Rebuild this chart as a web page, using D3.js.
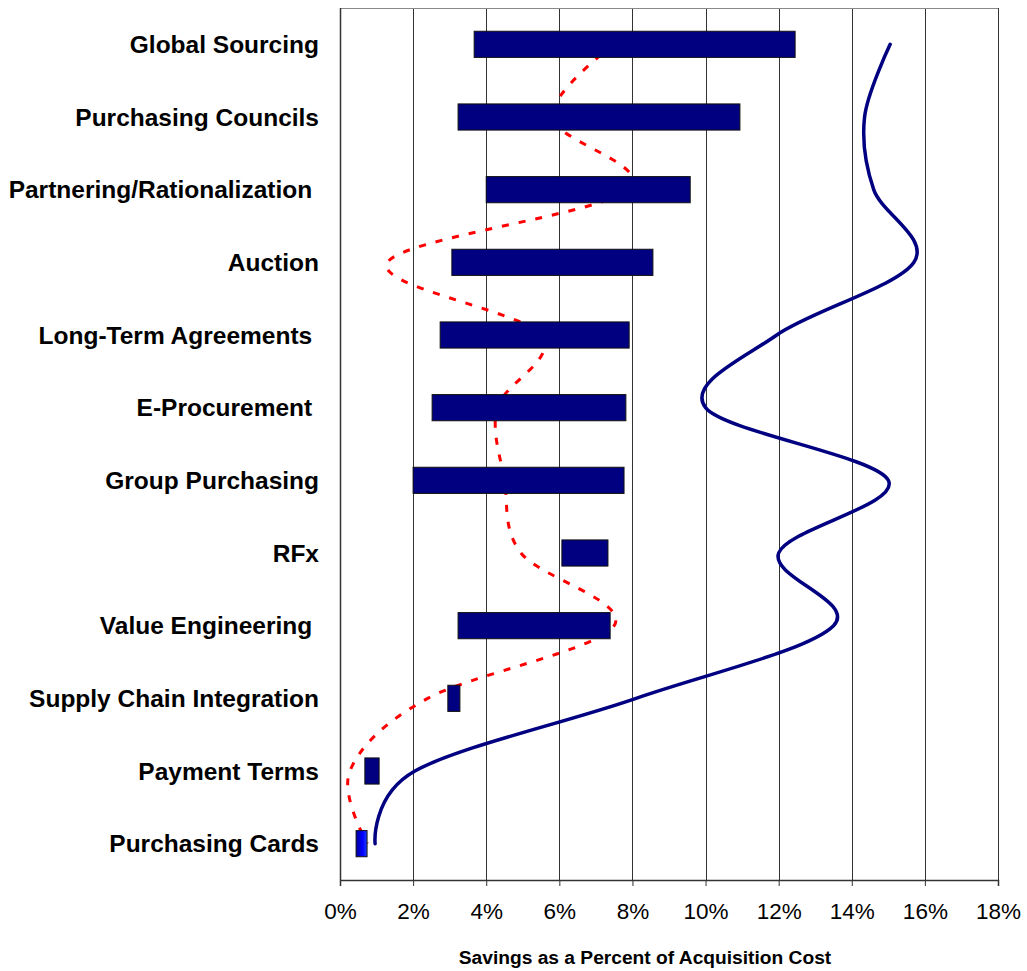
<!DOCTYPE html>
<html>
<head>
<meta charset="utf-8">
<script src="https://cdn.jsdelivr.net/npm/d3@7"></script>
<style>
  body { margin: 0; background: #fff; }
  text { font-family: "Liberation Sans", Arial, sans-serif; }
</style>
</head>
<body>
<svg class="chart"></svg>
<script>
// categories, top to bottom
var categories = ["Global Sourcing", "Purchasing Councils", "Partnering/Rationalization ",
  "Auction", "Long-Term Agreements ", "E-Procurement ", "Group Purchasing", "RFx",
  "Value Engineering ", "Supply Chain Integration", "Payment Terms", "Purchasing Cards"];

// floating bars: low and high savings (%)
var barLow  = [3.67, 3.23, 4.0, 3.06, 2.74, 2.52, 2.0, 6.07, 3.23, 2.95, 0.68, 0.44];
var barHigh = [12.45, 10.94, 9.58, 8.56, 7.91, 7.82, 7.77, 7.33, 7.39, 3.28, 1.07, 0.74];

// smoothed lines
var blueLine = [15.05, 14.35, 14.6, 15.7, 11.95, 10.0, 15.0, 12.0, 13.5, 8.1, 2.05, 0.96];
var redLine  = [7.5, 5.8, 7.9, 1.3, 5.5, 4.3, 4.5, 4.95, 7.5, 2.4, 0.27, 0.75];

var xTicks = [0, 2, 4, 6, 8, 10, 12, 14, 16, 18];

var W = 1027, H = 971;
var margin = {top: 8, right: 29, bottom: 91, left: 340}
  , width = W - margin.left - margin.right
  , height = H - margin.top - margin.bottom;

var x = d3.scaleLinear().domain([0, 18]).range([0, width]);
var y = d3.scaleBand().domain(categories).range([0, height])
  .paddingInner(0.64).paddingOuter(0.32);

var chart = d3.select('.chart').attr('width', W).attr('height', H);
var main = chart.append('g')
  .attr('transform', 'translate(' + margin.left + ',' + margin.top + ')');

// gridlines
main.append('g').selectAll('line')
  .data(xTicks.slice(1))
  .enter().append('line')
  .attr('x1', function(d) { return Math.round(x(d)) + 0.5; })
  .attr('x2', function(d) { return Math.round(x(d)) + 0.5; })
  .attr('y1', 0).attr('y2', height)
  .attr('stroke', '#333').attr('stroke-width', 1);

// frame top
main.append('line').attr('x1', 0).attr('x2', width).attr('y1', 0.5).attr('y2', 0.5)
  .attr('stroke', '#888');

// x axis
var xAxis = d3.axisBottom(x).tickValues(xTicks)
  .tickFormat(function(d) { return d + '%'; })
  .tickSize(6).tickPadding(17);
var gx = main.append('g').attr('transform', 'translate(0,' + height + ')').call(xAxis);
gx.select('.domain').attr('stroke', '#333').attr('stroke-width', 1.5);
gx.selectAll('.tick line').attr('stroke', '#333');
gx.selectAll('text').attr('font-size', 22.5).attr('fill', '#000')
  .attr('font-family', '"Liberation Sans", Arial, sans-serif');

// left axis line
main.append('line').attr('x1', 0.5).attr('x2', 0.5).attr('y1', 0).attr('y2', height)
  .attr('stroke', '#333').attr('stroke-width', 1.5);

// category labels
main.append('g').selectAll('text')
  .data(categories)
  .enter().append('text')
  .attr('x', -21)
  .attr('y', function(d) { return y(d) + y.bandwidth() / 2 + 8.5; })
  .attr('text-anchor', 'end')
  .style('white-space', 'pre')
  .attr('font-size', 24.5).attr('font-weight', 'bold')
  .text(function(d) { return d; });

// red dashed line (behind bars)
var cy = function(i) { return y(categories[i]) + y.bandwidth() / 2; };
var line = d3.line()
  .x(function(d) { return x(d); })
  .y(function(d, i) { return cy(i); })
  .curve(d3.curveCatmullRom.alpha(0));

main.append('path').datum(redLine)
  .attr('d', line)
  .attr('fill', 'none').attr('stroke', '#ff0000')
  .attr('stroke-width', 3).attr('stroke-dasharray', '7,10');

// gradient for last bar
var grad = chart.append('defs').append('linearGradient').attr('id', 'cardGrad');
grad.append('stop').attr('offset', '0%').attr('stop-color', '#0000a0');
grad.append('stop').attr('offset', '60%').attr('stop-color', '#0000ff');
grad.append('stop').attr('offset', '100%').attr('stop-color', '#2040ff');

// bars
main.append('g').selectAll('rect')
  .data(categories)
  .enter().append('rect')
  .attr('x', function(d, i) { return x(barLow[i]); })
  .attr('y', function(d) { return y(d); })
  .attr('width', function(d, i) { return x(barHigh[i]) - x(barLow[i]); })
  .attr('height', y.bandwidth())
  .attr('fill', function(d, i) { return i == categories.length - 1 ? 'url(#cardGrad)' : '#000080'; })
  .attr('stroke', '#111').attr('stroke-width', 1);

// blue smooth line
main.append('path').datum(blueLine)
  .attr('d', line)
  .attr('fill', 'none').attr('stroke', '#000080')
  .attr('stroke-width', 3.5).attr('stroke-linecap', 'round');

// axis title
chart.append('text')
  .attr('x', 645).attr('y', 964)
  .attr('text-anchor', 'middle')
  .attr('font-size', 19.2).attr('font-weight', 'bold')
  .text('Savings as a Percent of Acquisition Cost');
</script>
</body>
</html>
